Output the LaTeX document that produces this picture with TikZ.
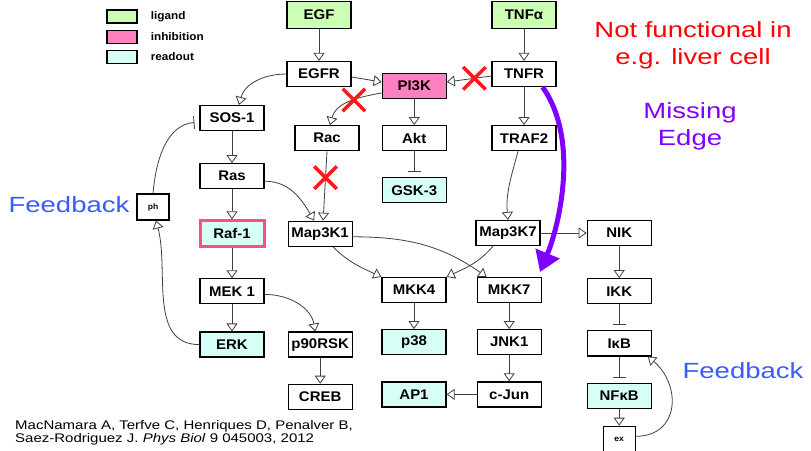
\documentclass[tikz,border=0pt]{standalone}
\usepackage{fontspec}
\setmainfont{Liberation Sans}
\newfontfamily\boxfont[FakeStretch=1.07]{Liberation Sans}
\newfontfamily\bigfont[FakeStretch=1.25]{Liberation Sans}
\newfontfamily\citefont[FakeStretch=1.2]{Liberation Sans}
\usetikzlibrary{arrows.meta}
\usetikzlibrary{positioning}
\usetikzlibrary{shapes.misc}
\definecolor{ligandgreen}{HTML}{CCFFB3}
\definecolor{inhibpink}{HTML}{FF80C0}
\definecolor{readoutcyan}{HTML}{D6FFF5}
\definecolor{rafborder}{HTML}{FF4D88}
\definecolor{linkgray}{HTML}{404040}
\definecolor{xred}{HTML}{FF1A1A}
\definecolor{missviolet}{HTML}{8000FF}
\definecolor{feedblue}{HTML}{3C5AFF}
\newcommand{\boxtext}{\boxfont\bfseries\fontsize{14pt}{16pt}\selectfont}
\newcommand{\legtext}{\boxfont\bfseries\fontsize{11pt}{13pt}\selectfont}
\newcommand{\tinytext}{\boxfont\bfseries\fontsize{8pt}{9pt}\selectfont}
\newcommand{\bigtext}{\bigfont\fontsize{22pt}{27pt}\selectfont}
\tikzset {
  mol/.style = {
    draw = black,
    line width = 1.2pt,
    fill = white,
    minimum width = 64pt,
    minimum height = 25pt,
    inner sep = 0pt,
    font = {\boxtext}
  },
  % ligand on top
  ligand/.style = {
    mol,
    fill = ligandgreen,
    minimum height = 27pt
  },
  % inhibited node
  inhib/.style = {
    mol,
    fill = inhibpink
  },
  % measured node
  readout/.style = {
    mol,
    fill = readoutcyan
  },
  rafbox/.style = {
    readout,
    draw = rafborder,
    line width = 3pt,
    minimum height = 26pt
  },
  small/.style = {
    mol,
    minimum width = 32pt,
    minimum height = 26pt,
    font = {\tinytext}
  },
  legbox/.style = {
    draw = black,
    line width = 1.2pt,
    minimum width = 30pt,
    minimum height = 13pt,
    inner sep = 0pt
  },
  legend text/.style = {
    inner sep = 0pt,
    font = {\legtext}
  }
}
\tikzset {
  link/.style = {
    draw = linkgray,
    line width = 0.8pt
  },
  % activation
  act/.style = {
    link,
    -{Triangle[open, length = 8pt, width = 11pt]}
  },
  % inhibition
  inh/.style = {
    link,
    -{Bar[width = 13pt]},
    shorten > = 5pt
  },
  % edge not working in the cell
  cut/.style = {
    cross out,
    draw = xred,
    line width = 3.5pt,
    minimum size = 19pt,
    inner sep = 0pt
  },
  missing/.style = {
    draw = missviolet,
    line width = 5pt,
    -{Triangle[length = 20pt, width = 25pt]}
  }
}
\begin{document}
\begin{tikzpicture}[x=1pt, y=1pt]
    \path[use as bounding box, fill=white] (0,0) rectangle (811,450);

    \node[legbox, fill=ligandgreen] (leg-ligand) at (122,433.5) {};
    \node[legbox, fill=inhibpink] (leg-inhib) [below=6pt of leg-ligand] {};
    \node[legbox, fill=readoutcyan] (leg-readout) [below=6pt of leg-inhib] {};
    \node[legend text] (leg-ligand-text) [right=13pt of leg-ligand] {ligand};
    \node[legend text] (leg-inhib-text) [right=13pt of leg-inhib] {inhibition};
    \node[legend text] (leg-readout-text) [right=13pt of leg-readout] {readout};

    \node[mol] (egfr) at (319,376) {EGFR};
    \node[ligand] (egf) [above=32pt of egfr] {EGF};
    \node[inhib] (pik) [right=30pt of egfr, yshift=-12pt] {PI3K};
    \node[mol] (tnfr) at (524,376) {TNFR};
    \node[ligand] (tnfa) [above=32pt of tnfr] {TNFα};
    \node[mol] (akt) [below=26pt of pik] {Akt};
    \node[readout] (gsk) [below=26pt of akt] {GSK-3};
    \node[mol] (rac) [left=22pt of akt] {Rac};
    \node[mol] (traf) [below=38pt of tnfr] {TRAF2};

    \node[mol] (sos) at (232,332) {SOS-1};
    \node[mol] (ras) [below=32pt of sos] {Ras};
    \node[rafbox] (raf) [below=30pt of ras] {Raf-1};
    \node[mol] (mek) [below=30pt of raf] {MEK 1};
    \node[readout] (erk) [below=27pt of mek] {ERK};
    \node[small] (ph) at (153,243) {ph};

    \node[mol] (map3k1) [right=22pt of raf] {Map3K1};
    \node[mol] (rsk) [right=23pt of erk] {p90RSK};
    \node[mol] (creb) [below=26pt of rsk] {CREB};

    \node[mol] (mkk4) at (414,160) {MKK4};
    \node[readout] (p38) [below=26pt of mkk4] {p38};
    \node[readout] (ap1) [below=26pt of p38] {AP1};
    \node[mol] (mkk7) [right=30pt of mkk4] {MKK7};
    \node[mol] (jnk) [below=26pt of mkk7] {JNK1};
    \node[mol] (cjun) [below=26pt of jnk] {c-Jun};

    \node[mol] (map3k7) at (508,217) {Map3K7};
    \node[mol] (nik) [right=46pt of map3k7] {NIK};
    \node[mol] (ikk) [below=32pt of nik] {IKK};
    \node[mol] (ikb) [below=26pt of ikk] {IκB};
    \node[readout] (nfkb) [below=26pt of ikb] {NFκB};
    \node[small] (ex) [below=17pt of nfkb] {ex};

    \draw[act] (egf) -- (egfr);
    \draw[act] (tnfa) -- (tnfr);
    \draw[act] (egfr.west) to[out=180, in=75] ([xshift=7pt]sos.north);
    \draw[act] ([yshift=-3pt]egfr.east) -- ([yshift=4pt]pik.west);
    \draw[act] ([yshift=-2pt]tnfr.west)
    -- node[cut, pos=0.38] (cut-tnfr-pik) {} ([yshift=4pt]pik.east);
    \draw[act] ([yshift=-7pt]pik.west)
    to[out=190, in=75] node[cut, pos=0.42] (cut-pik-rac) {} ([xshift=3pt]rac.north);
    \draw[act] (pik) -- (akt);
    \draw[inh] (akt) -- (gsk);
    \draw[act] (tnfr) -- (traf);

    \draw[act] (sos) -- (ras);
    \draw[inh] (ph.north) to[out=85, in=185] ([yshift=-4pt]sos.west);
    \draw[act] (erk.west) to[out=180, in=-75] ([xshift=3pt]ph.south);
    \draw[act] (ras) -- (raf);
    \draw[act] ([yshift=-5pt]ras.east) to[out=0, in=120] ([xshift=-6pt]map3k1.north);
    \draw[act] (rac.south)
    -- node[cut, pos=0.38] (cut-rac-map3k1) {} ([xshift=3pt]map3k1.north);
    \draw[act] ([xshift=-6pt]traf.south) to[out=-105, in=95] (map3k7.north);
    \draw[act] (map3k7) -- (nik);

    \draw[act] (raf) -- (mek);
    \draw[act] ([xshift=13pt]map3k1.south) to[out=-45, in=155] (mkk4.north west);
    \draw[act] ([yshift=-3pt]map3k1.east) to[out=0, in=145] ([xshift=10pt]mkk7.north west);
    \draw[act] ([xshift=-15pt]map3k7.south) to[out=-130, in=25] (mkk4.north east);
    \draw[act] (nik) -- (ikk);

    \draw[act] (mek) -- (erk);
    \draw[act] ([yshift=-3pt]mek.east) to[out=0, in=100] ([xshift=-5pt]rsk.north);
    \draw[act] (mkk4) -- (p38);
    \draw[act] (mkk7) -- (jnk);
    \draw[inh] (ikk) -- (ikb);

    \draw[act] (rsk) -- (creb);
    \draw[act] (jnk) -- (cjun);
    \draw[act] (cjun) -- (ap1);
    \draw[inh] (ikb) -- (nfkb);
    \draw[act] (nfkb) -- (ex);
    \draw[act] ([yshift=3pt]ex.east) to[out=0, in=-40, looseness=1.4] ([xshift=-4pt]ikb.south east);

    \coordinate (miss-end) at (540,178);
    \draw[missing] ([xshift=-14pt]tnfr.south east)
    .. controls (580,310) and (559,224) .. (miss-end);

    \node[anchor=north, align=center, inner sep=0pt, text=red, font=\bigtext]
    (not-functional) at (693,429) {Not functional in\\e.g. liver cell};
    \node[anchor=north, align=center, inner sep=0pt, text=missviolet, font=\bigtext]
    (missing-edge) at (690,348) {Missing\\Edge};
    \node[anchor=base, inner sep=0pt, text=feedblue, font=\bigtext]
    (feedback-ph) at (69,237) {Feedback};
    \node[anchor=base, inner sep=0pt, text=feedblue, font=\bigtext]
    (feedback-ex) at (743,72) {Feedback};
    \node[anchor=north west, align=left, inner sep=0pt,
      font={\citefont\fontsize{12.5pt}{13.5pt}\selectfont}]
    (citation) at (15,30)
    {MacNamara A, Terfve C, Henriques D, Penalver B,\\
      Saez-Rodriguez J. \textit{Phys Biol} 9 045003, 2012};
  \end{tikzpicture}
\end{document}
